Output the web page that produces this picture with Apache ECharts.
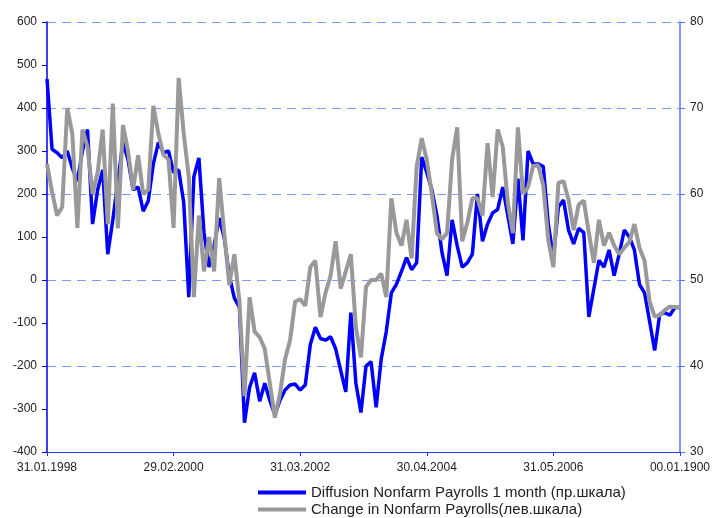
<!DOCTYPE html>
<html lang="ru">
<head>
  <meta charset="utf-8">
  <title>Nonfarm Payrolls</title>
  <script src="https://cdn.jsdelivr.net/npm/echarts@6/dist/echarts.min.js"></script>
  <style>
    html, body { margin: 0; padding: 0; background: #fff; }
    #main { width: 713px; height: 518px; }
  </style>
</head>
<body>
  <div id="main"></div>
  <script>
    // месячные даты: 01.1998 - 05.2008, последняя ячейка пустая (00.01.1900)
    var startYear = 1998;
    var monthCount = 125;
    var emptyLabel = '00.01.1900';

    // Diffusion Nonfarm Payrolls 1 month (правая шкала)
    var diffusion = [
      73.4, 65.2, 64.8, 64.2, 65.0, 63.0, 61.5, 65.0, 67.5, 56.5,
      60.5, 62.8, 53.0, 57.0, 61.5, 66.0, 64.0, 60.5, 60.8, 58.0,
      59.2, 63.5, 66.0, 64.8, 65.0, 62.5, 62.8, 59.0, 48.0, 62.0,
      64.2, 55.5, 51.5, 54.0, 57.2, 54.9, 50.5, 47.9, 46.8, 33.4,
      37.5, 39.2, 35.9, 38.0, 36.0, 34.3, 36.0, 37.2, 37.8, 37.9,
      37.2, 37.8, 42.5, 44.5, 43.2, 43.0, 43.4, 42.0, 39.5, 37.0,
      46.2, 38.0, 34.6, 40.0, 40.5, 35.2, 40.8, 44.0, 48.5, 49.5,
      51.0, 52.6, 51.2, 52.0, 64.3, 62.5, 60.5, 57.5, 53.2, 50.5,
      57.0, 54.0, 51.5, 52.0, 53.0, 60.0, 54.5, 56.5, 57.8, 58.2,
      60.8, 57.5, 54.2, 61.8, 54.6, 65.0, 63.5, 63.5, 63.2, 56.5,
      52.6, 58.5, 59.3, 55.8, 54.2, 56.0, 55.5, 45.7, 49.0, 52.3,
      51.5, 53.5, 50.5, 53.0, 55.8, 55.0, 53.5, 49.5, 48.5, 45.2,
      41.8, 46.0, 46.2, 45.9, 46.8, 46.8
    ];

    // Change in Nonfarm Payrolls (левая шкала)
    var change = [
      270, 205, 150, 170, 400, 340, 121, 350, 310, 200,
      250, 350, 130, 410, 120, 360, 300, 210, 290, 200,
      210, 405, 340, 291, 280, 121, 470, 340, 240, -40,
      150, 20, 100, 20, 237, 110, -12, 60, -50, -270,
      -40, -120, -133, -160, -240, -320, -265, -185, -140, -50,
      -45, -60, 30, 45, -86, -30, 10, 90, -20, 20,
      60, -110, -180, -16, 0, 0, 15, -40, 190, 110,
      80, 140, 50, 263, 330, 279, 200, 109, 95, 109,
      280, 355, 90, 133, 190, 190, 150, 318, 193, 350,
      310, 180, 109, 355, 200, 216, 265, 267, 220, 93,
      30, 226, 230, 186, 116, 175, 185, 110, 40, 140,
      80, 110, 80, 60, 75, 88, 130, 75, 45, -50,
      -85, -82, -70, -62, -63, -63
    ];

    var leftTicks = { min: -400, max: 600, interval: 100 };
    var rightTicks = { min: 30, max: 80, interval: 10 };

    var nameBlue = 'Diffusion Nonfarm Payrolls 1 month (пр.шкала)';
    var nameGray = 'Change in Nonfarm Payrolls(лев.шкала)';

    function pad(n) { return n < 10 ? '0' + n : '' + n; }
    var categories = [];
    for (var k = 0; k < monthCount; k++) {
      var y = startYear + Math.floor(k / 12);
      var m = k % 12 + 1;
      var last = new Date(y, m, 0).getDate();
      categories.push(pad(last) + '.' + pad(m) + '.' + y);
    }
    categories.push(emptyLabel);

    var labelFont = { fontFamily: 'Liberation Sans, Arial, sans-serif', fontSize: 12, color: '#222' };

    function legendAt(top, name) {
      return {
        left: 258,
        top: top,
        padding: 0,
        itemWidth: 48,
        itemHeight: 4,
        itemGap: 4,
        icon: 'rect',
        textStyle: { fontFamily: 'Liberation Sans, Arial, sans-serif', fontSize: 15, color: '#222' },
        data: [name]
      };
    }

    var myChart = echarts.init(document.getElementById('main'));
    var option = {
      animation: false,
      grid: { left: 47, right: 33, top: 22, bottom: 66, containLabel: false },
      legend: [legendAt(485, nameBlue), legendAt(502, nameGray)],
      xAxis: {
        type: 'category',
        data: categories,
        boundaryGap: false,
        axisLine: { onZero: false, lineStyle: { color: '#1a3cff', width: 1 } },
        axisTick: {
          length: 4,
          lineStyle: { color: '#1a3cff' },
          interval: function (i) { return i % 25 === 0; }
        },
        axisLabel: Object.assign({ margin: 10, interval: function (i) { return i % 25 === 0; } }, labelFont),
        splitLine: { show: false }
      },
      yAxis: [{
        type: 'value',
        position: 'left',
        min: leftTicks.min, max: leftTicks.max, interval: leftTicks.interval,
        axisLine: { show: true, lineStyle: { color: '#0000ee', width: 1.5 } },
        axisTick: { show: true, length: 5, lineStyle: { color: '#0000ee' } },
        axisLabel: Object.assign({ margin: 10 }, labelFont),
        splitLine: { show: false }
      }, {
        type: 'value',
        position: 'right',
        min: rightTicks.min, max: rightTicks.max, interval: rightTicks.interval,
        axisLine: { show: true, lineStyle: { color: '#5577ff', width: 1.5 } },
        axisTick: { show: true, length: 5, lineStyle: { color: '#5577ff' } },
        axisLabel: Object.assign({ margin: 10 }, labelFont),
        splitLine: { show: true, lineStyle: { color: '#7f9bff', type: [9, 6], width: 1.2 } }
      }],
      series: [{
        name: nameBlue,
        type: 'line',
        yAxisIndex: 1,
        data: diffusion,
        showSymbol: false,
        symbol: 'none',
        lineStyle: { color: '#0000ff', width: 3.5 },
        itemStyle: { color: '#0000ff' }
      }, {
        name: nameGray,
        type: 'line',
        yAxisIndex: 0,
        data: change,
        showSymbol: false,
        symbol: 'none',
        lineStyle: { color: '#999999', width: 4 },
        itemStyle: { color: '#999999' }
      }]
    };
    myChart.setOption(option);
  </script>
</body>
</html>
